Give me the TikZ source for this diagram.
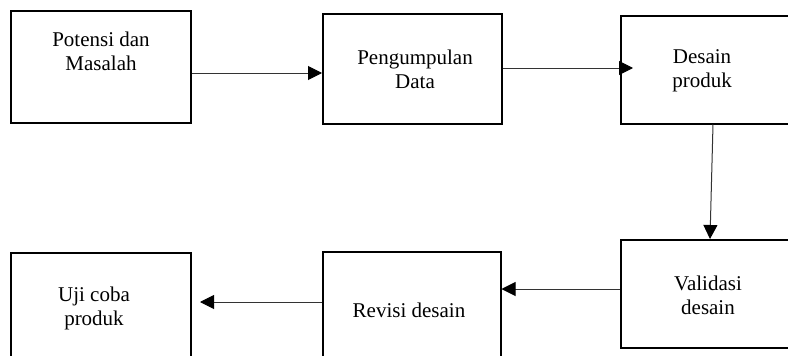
\documentclass[tikz,border=0pt]{standalone}
\usepackage{fontspec}
\setmainfont{Liberation Serif}
\usetikzlibrary{arrows.meta}
\begin{document}
\begin{tikzpicture}[x=1pt,y=-1pt,
  box/.style={draw=black,line width=1.5pt,rectangle,inner sep=0pt,anchor=north west},
  txt/.style={font=\fontsize{21}{24}\selectfont,align=center,anchor=base,inner sep=0pt},
  arr/.style={draw=black!80,line width=1pt,-{Triangle[length=14pt,width=14pt,color=black]}}]
\useasboundingbox (0,0) rectangle (788,356);
\clip (0,0) rectangle (788,356);
\fill[white] (0,0) rectangle (788,356);
% boxes
\node[box,minimum width=180pt,minimum height=112pt] (b1) at (10,10) {};
\node[box,minimum width=179pt,minimum height=110pt] (b2) at (322,13) {};
\node[box,minimum width=190pt,minimum height=108pt] (b3) at (620,15) {};
\node[box,minimum width=190pt,minimum height=108pt] (b4) at (620,239) {};
\node[box,minimum width=178pt,minimum height=120pt] (b5) at (322,251) {};
\node[box,minimum width=180pt,minimum height=120pt] (b6) at (10,252) {};
% texts (anchor base = last line baseline)
\node[txt] (t1) at (101,70) {Potensi dan\\Masalah};
\node[txt] (t2) at (415,88) {Pengumpulan\\Data};
\node[txt] (t3) at (702,87) {Desain\\produk};
\node[txt] (t4) at (708,314) {Validasi\\desain};
\node[txt] (t5) at (409,317) {Revisi desain};
\node[txt] (t6) at (94,325) {Uji coba\\produk};
% connectors
\coordinate (e5) at (200,302);
\draw[arr] (b1.east |- 0,73) -- (b2.west |- 0,73);
\draw[arr] (b2.east |- 0,68) -- ([xshift=13pt]b3.west |- 0,68);
\draw[arr] (b3.south -| 713,0) -- (b4.north -| 710,0);
\draw[arr] (b4.west |- 0,289) -- (b5.east |- 0,289);
\draw[arr] (b5.west |- 0,302) -- (e5);
\end{tikzpicture}
\end{document}
